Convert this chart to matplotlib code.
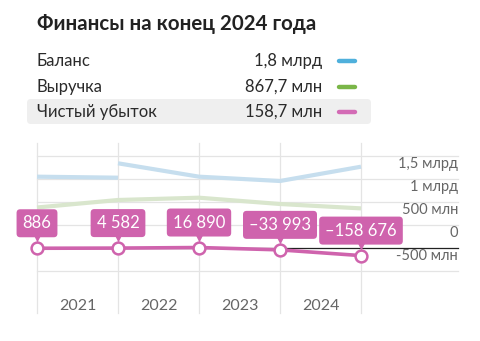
import matplotlib
matplotlib.use("Agg")
import matplotlib.pyplot as plt
from matplotlib.patches import FancyBboxPatch
from matplotlib.transforms import offset_copy

plt.rcParams['font.family'] = ['Lato', 'DejaVu Sans']

# --- data ---
years = ['2021', '2022', '2023', '2024']
points = [0, 1, 2, 3, 4]
balance_first = [1.557, 1.535]              # млрд, points 0..1
balance_second = [1.848, 1.557, 1.463, 1.774]  # млрд, points 1..4
revenue = [0.887, 1.05, 1.10, 0.963, 0.8677]   # млрд
net_loss = [886, 4582, 16890, -33993, -158676]  # тыс. руб.
net_labels = ['886', '4 582', '16 890', '–33 993', '–158 676']
ytick_vals = [1.5, 1.0, 0.5, 0.0, -0.5]
ytick_labels = ['1,5 млрд', '1 млрд', '500 млн', '0', '-500 млн']
grid_vals = [2.0, 1.5, 1.0, 0.5, -0.5]

legend_names = ['Баланс', 'Выручка', 'Чистый убыток']
legend_values = ['1,8 млрд', '867,7 млн', '158,7 млн']
legend_colors = ['#4fb0dc', '#7ab648', '#d36bb5']

PINK = '#cf63ad'
W, H = 481, 341

fig = plt.figure(figsize=(W / 100, H / 100), dpi=100)

# header area (pixel coords)
hdr = fig.add_axes([0, 0, 1, 1])
hdr.set_xlim(0, W)
hdr.set_ylim(H, 0)
hdr.axis('off')

hdr.text(37, 24, 'Финансы на конец 2024 года', fontsize=14.8, fontweight='bold',
         color='#222222', va='center', ha='left')

hdr.add_patch(FancyBboxPatch((27, 99), 344, 25, boxstyle='round,pad=0,rounding_size=4',
                             fc='#efefef', ec='none'))
row_y = [61, 87, 112]
for name, val, col, y in zip(legend_names, legend_values, legend_colors, row_y):
    hdr.text(37, y, name, fontsize=12, color='#2a2a2a', va='center', ha='left')
    hdr.text(322, y, val, fontsize=12, color='#2a2a2a', va='center', ha='right')
    hdr.plot([339, 355], [y, y], color=col, lw=3.2, solid_capstyle='round')

# chart area: x data 0 at px 37, 81 px per step; y 0 at px 248.3, 46 px per 1 млрд
top_px, bot_px = 130, 341
ax = fig.add_axes([0, 0, 1, (bot_px - top_px) / H])
ax.set_xlim(-37 / 81, (W - 37) / 81)
ax.set_ylim((248.3 - bot_px) / 46, (248.3 - top_px) / 46)
ax.axis('off')

xr = (458 - 37) / 81
for v in grid_vals:
    ax.plot([0, xr], [v, v], color='#e4e4e4', lw=0.9, zorder=1)
ax.plot([0, xr], [0, 0], color='#222222', lw=0.9, zorder=1)
for p in points:
    ax.plot([p, p], [(248.3 - 143) / 46, (248.3 - 313) / 46], color='#e4e4e4', lw=0.9, zorder=1)

for v, lab in zip(ytick_vals, ytick_labels):
    ax.annotate(lab, (xr, v), xytext=(0, 15), textcoords='offset pixels',
                ha='right', va='center', fontsize=10.5, color='#666666')

for i, y in enumerate(years):
    ax.text(i + 0.5, (248.3 - 306) / 46, y, ha='center', va='center',
            fontsize=11.5, color='#666666')

ax.plot(points[:2], balance_first, color='#c6deee', lw=3, zorder=2, solid_capstyle='butt')
ax.plot(points[1:], balance_second, color='#c6deee', lw=3, zorder=2, solid_capstyle='butt')
ax.plot(points, revenue, color='#d9e6cd', lw=3, zorder=2, solid_capstyle='butt')

net_b = [v / 1e6 for v in net_loss]
ax.plot(points, net_b, color=PINK, lw=2.6, zorder=3)
ax.plot(points, net_b, 'o', ms=8.5, mfc='white', mec=PINK, mew=1.8, zorder=4)

tri_tr = offset_copy(ax.transData, fig=fig, x=0, y=10, units='dots')
for p, v, lab in zip(points, net_b, net_labels):
    ax.plot([p], [v], marker='v', ms=6, color=PINK, mec='none', transform=tri_tr, zorder=5)
    ax.annotate(lab, (p, v), xytext=(0, 25), textcoords='offset pixels',
                ha='center', va='center', fontsize=12, color='white', zorder=6,
                bbox=dict(boxstyle='round,pad=0.36,rounding_size=0.22', fc=PINK, ec='none'))

fig.savefig('out.png', dpi=100)
